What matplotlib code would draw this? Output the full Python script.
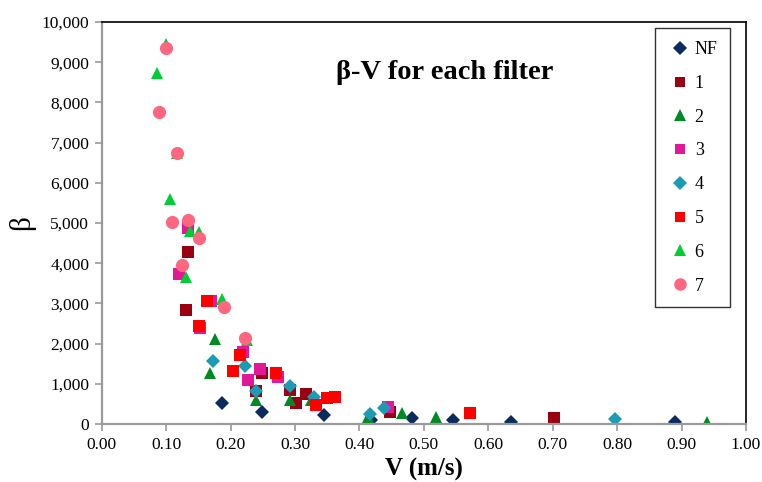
import matplotlib.pyplot as plt
from matplotlib.ticker import MultipleLocator, FuncFormatter

# velocity (m/s) and beta for each filter
v_nf = [0.187, 0.249, 0.345, 0.418, 0.481, 0.545, 0.635, 0.890]
b_nf = [520, 290, 235, 110, 160, 110, 50, 45]

v_1 = [0.130, 0.134, 0.240, 0.248, 0.292, 0.302, 0.317, 0.447, 0.702]
b_1 = [2840, 4290, 830, 1270, 850, 520, 740, 310, 140]

v_2 = [0.1755, 0.168, 0.239, 0.292, 0.325, 0.414, 0.4665, 0.519, 0.940]
b_2 = [2110, 1260, 600, 600, 600, 170, 280, 170, 40]

v_3 = [0.120, 0.134, 0.152, 0.170, 0.219, 0.227, 0.246, 0.274, 0.445]
b_3 = [3720, 4870, 2400, 3050, 1800, 1090, 1380, 1180, 430]

v_4 = [0.172, 0.222, 0.239, 0.292, 0.330, 0.417, 0.438, 0.796]
b_4 = [1575, 1450, 820, 950, 680, 250, 390, 115]

v_5 = [0.151, 0.163, 0.203, 0.214, 0.270, 0.333, 0.349, 0.362, 0.572]
b_5 = [2440, 3050, 1320, 1720, 1260, 480, 640, 680, 270]

v_6 = [0.085, 0.0995, 0.106, 0.117, 0.130, 0.137, 0.151, 0.186, 0.225]
b_6 = [8720, 9450, 5600, 6740, 3660, 4810, 4780, 3120, 2100]

v_7 = [0.0887, 0.0995, 0.109, 0.117, 0.124, 0.134, 0.151, 0.190, 0.222]
b_7 = [7770, 9350, 5030, 6730, 3950, 5070, 4620, 2920, 2130]

series = [
    ('NF', v_nf, b_nf, 'D', '#0B2A5E', 7.5),
    ('1', v_1, b_1, 's', '#990012', 8),
    ('2', v_2, b_2, '^', '#008A22', 8.5),
    ('3', v_3, b_3, 's', '#E2189B', 8),
    ('4', v_4, b_4, 'D', '#1B9CB4', 7.5),
    ('5', v_5, b_5, 's', '#FF0000', 8),
    ('6', v_6, b_6, '^', '#00CC33', 8.5),
    ('7', v_7, b_7, 'o', '#FF6680', 9.5),
]

plt.rcParams['font.family'] = 'Liberation Serif'

fig = plt.figure(figsize=(7.62, 4.82), dpi=100)
ax = fig.add_axes([0.1336, 0.1203, 0.8454, 0.8341])

for name, v, b, m, c, ms in series:
    ax.plot(v, b, linestyle='none', marker=m, color=c, markersize=ms,
            markeredgewidth=0, label=name)

ax.set_xlim(0, 1.0)
ax.set_ylim(0, 10000)
ax.xaxis.set_major_locator(MultipleLocator(0.1))
ax.yaxis.set_major_locator(MultipleLocator(1000))
ax.xaxis.set_major_formatter(FuncFormatter(lambda x, p: f'{x:.2f}'))
ax.yaxis.set_major_formatter(FuncFormatter(lambda y, p: f'{y:,.0f}'))
ax.tick_params(axis='both', direction='out', length=5, width=1.2,
               color='#9A9A9A', labelsize=12.5, pad=4)

for s in ['left', 'bottom']:
    ax.spines[s].set_color('#9A9A9A')
    ax.spines[s].set_linewidth(1.6)
for s in ['top', 'right']:
    ax.spines[s].set_color('black')
    ax.spines[s].set_linewidth(1.2)

ax.set_xlabel('V (m/s)', fontsize=18, fontweight='bold', labelpad=4)
ax.set_ylabel('β', fontsize=21, labelpad=5)

ax.text(0.533, 0.875, 'β-V for each filter', transform=ax.transAxes,
        ha='center', va='center', fontsize=20.5, fontweight='bold')

leg = ax.legend(loc='upper right', bbox_to_anchor=(0.981, 0.993),
                fontsize=13, frameon=True, fancybox=False,
                handlelength=1.4, handletextpad=0.1, labelspacing=0.93,
                borderpad=0.7, borderaxespad=0.2, markerscale=0.95)
leg.get_frame().set_edgecolor('black')
leg.get_frame().set_linewidth(1.0)

plt.savefig('out.png', dpi=100)
plt.close()
